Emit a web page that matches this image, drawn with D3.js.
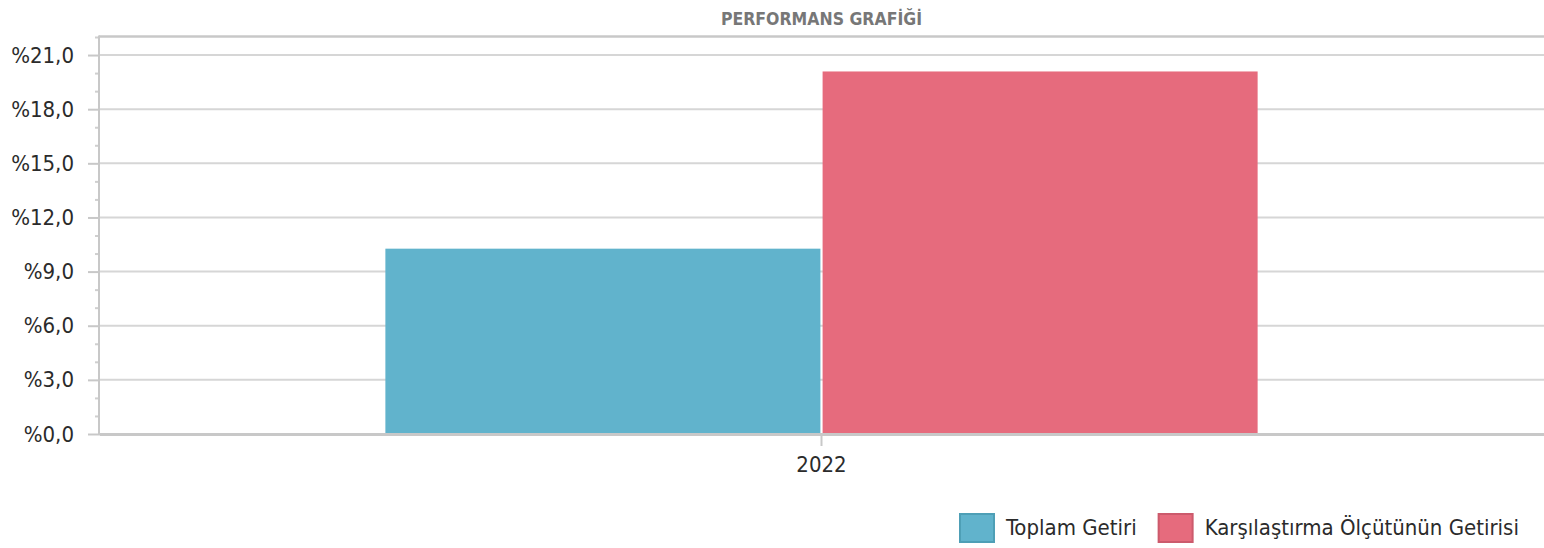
<!DOCTYPE html>
<html lang="tr">
<head>
    <meta charset="UTF-8">
    <script src="https://d3js.org/d3.v7.min.js"></script>
    <title>Performans Grafiği</title>
    <style>
        body { margin: 0; background: #fff; }
        svg text { font-family: "DejaVu Sans Condensed", "DejaVu Sans", sans-serif; }
    </style>
</head>
<body>
    <div id="chart"></div>
    <script>
        // data
        const categories = ["2022"];
        const seriesNames = ["Toplam Getiri", "Karşılaştırma Ölçütünün Getirisi"];
        const seriesColors = ["#61b3cc", "#e66b7d"];
        const seriesStrokes = ["#4e9fb6", "#cc5a6c"];
        const toplamGetiri = [10.27];
        const karsilastirma = [20.09];
        const yTicks = [0, 3, 6, 9, 12, 15, 18, 21];
        const yMinorTicks = [1, 2, 4, 5, 7, 8, 10, 11, 13, 14, 16, 17, 19, 20, 22];

        const width = 1544, height = 548;
        const margin = { top: 37, right: 0, bottom: 114, left: 99 };

        const svg = d3.select("#chart")
            .append("svg")
            .attr("width", width)
            .attr("height", height);

        const y = d3.scaleLinear()
            .domain([0, 22])
            .range([height - margin.bottom, margin.top]);

        const x0 = d3.scaleBand()
            .domain(categories)
            .range([margin.left, width - margin.right]);

        const x1 = d3.scaleBand()
            .domain(seriesNames)
            .range([0, x0.bandwidth()])
            .paddingInner(0.005)
            .paddingOuter(0.655);

        const fmt = v => "%" + d3.format(".1f")(v).replace(".", ",");

        // title
        svg.append("text")
            .attr("x", (margin.left + width) / 2)
            .attr("y", 25)
            .attr("text-anchor", "middle")
            .style("font-weight", "bold")
            .style("font-size", "17.5px")
            .style("fill", "#777")
            .text("PERFORMANS GRAFİĞİ");

        // grid lines
        svg.append("g")
            .selectAll("line")
            .data(yTicks.filter(d => d > 0))
            .join("line")
            .attr("x1", margin.left)
            .attr("x2", width)
            .attr("y1", d => y(d))
            .attr("y2", d => y(d))
            .attr("stroke", "#d6d6d6")
            .attr("stroke-width", 2);

        // top frame
        svg.append("line")
            .attr("x1", margin.left).attr("x2", width)
            .attr("y1", y(22) - 0.5).attr("y2", y(22) - 0.5)
            .attr("stroke", "#c8c8c8")
            .attr("stroke-width", 2.5);

        // y axis
        const yAxis = d3.axisLeft(y)
            .tickValues(yTicks)
            .tickSize(11)
            .tickPadding(14)
            .tickFormat(fmt);

        const yg = svg.append("g")
            .attr("transform", `translate(${margin.left},0)`)
            .call(yAxis);
        yg.select(".domain").remove();
        yg.selectAll(".tick line").attr("stroke", "#c8c8c8").attr("stroke-width", 2);
        yg.selectAll(".tick text")
            .style("font-size", "22px")
            .style("fill", "#2b2b2b");

        const yMinor = d3.axisLeft(y)
            .tickValues(yMinorTicks)
            .tickSize(4)
            .tickFormat("");
        const ymg = svg.append("g")
            .attr("transform", `translate(${margin.left},0)`)
            .call(yMinor);
        ymg.select(".domain").remove();
        ymg.selectAll(".tick line").attr("stroke", "#cfcfcf").attr("stroke-width", 2);

        // bars
        const rows = categories.map((c, i) => ({
            cat: c,
            values: [toplamGetiri[i], karsilastirma[i]]
        }));

        svg.append("g")
            .selectAll("g")
            .data(rows)
            .join("g")
            .attr("transform", d => `translate(${x0(d.cat)},0)`)
            .selectAll("rect")
            .data(d => d.values.map((v, j) => ({ name: seriesNames[j], value: v, j })))
            .join("rect")
            .attr("x", d => x1(d.name))
            .attr("y", d => y(d.value))
            .attr("width", x1.bandwidth())
            .attr("height", d => y(0) - y(d.value))
            .attr("fill", d => seriesColors[d.j]);

        // left axis line
        svg.append("line")
            .attr("x1", margin.left).attr("x2", margin.left)
            .attr("y1", y(22) - 1.5).attr("y2", y(0) + 1)
            .attr("stroke", "#c8c8c8")
            .attr("stroke-width", 2);

        // x axis
        const xAxis = d3.axisBottom(x0)
            .tickSize(12)
            .tickSizeOuter(0)
            .tickPadding(10);
        const xg = svg.append("g")
            .attr("transform", `translate(0,${y(0)})`)
            .call(xAxis);
        xg.select(".domain")
            .attr("stroke", "#c8c8c8")
            .attr("stroke-width", 3);
        xg.selectAll(".tick line").attr("stroke", "#c8c8c8").attr("stroke-width", 2);
        xg.selectAll(".tick text")
            .style("font-size", "22px")
            .style("fill", "#2b2b2b");

        // legend
        const legend = svg.append("g");
        const items = legend.selectAll("g")
            .data(seriesNames)
            .join("g");
        items.append("rect")
            .attr("width", 34)
            .attr("height", 28)
            .attr("y", 514)
            .attr("fill", (d, i) => seriesColors[i])
            .attr("stroke", (d, i) => seriesStrokes[i])
            .attr("stroke-width", 2);
        items.append("text")
            .attr("x", 46)
            .attr("y", 535)
            .style("font-size", "22px")
            .style("fill", "#2b2b2b")
            .text(d => d);

        let lx = 960;
        items.each(function () {
            const g = d3.select(this);
            g.attr("transform", `translate(${lx},0)`);
            lx += 46 + g.select("text").node().getComputedTextLength() + 22;
        });
    </script>
</body>
</html>
